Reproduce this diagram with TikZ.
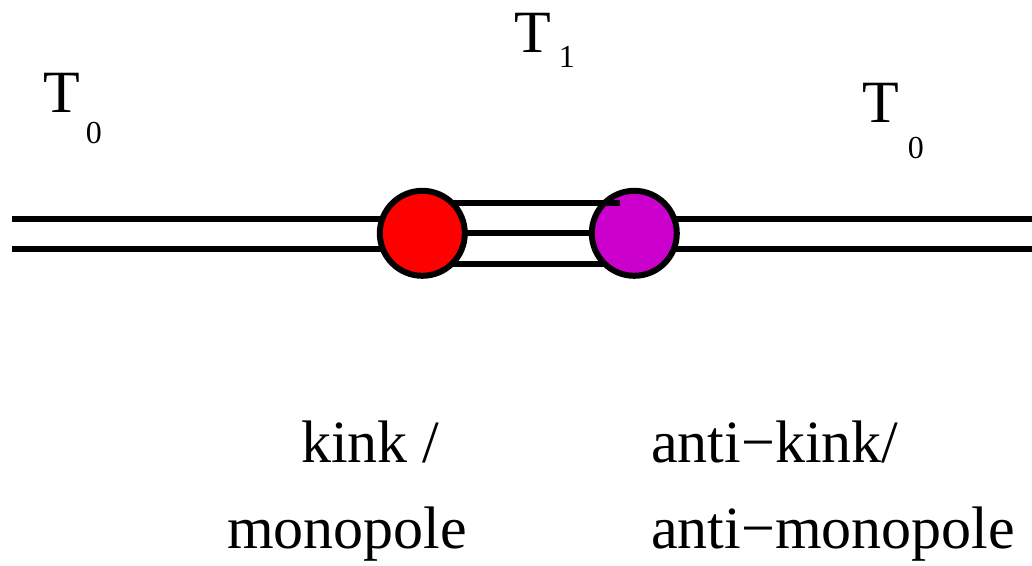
\documentclass[tikz,border=0pt]{standalone}
\usepackage{fontspec}
\setmainfont{Liberation Serif}
\definecolor{kinkred}{RGB}{255,0,0}
\definecolor{antipurple}{RGB}{204,0,204}
% T with a lowered index: #1 index, #2 gap, #3 drop
\newcommand{\tsub}[3]{T\hspace{#2pt}\raisebox{-#3pt}{\fontsize{32}{32}\selectfont #1}}
\begin{document}
\begin{tikzpicture}[x=1pt,y=-1pt,
  tube/.style={line width=6pt},
  pole/.style={circle,draw=black,line width=6pt,minimum size=85pt,inner sep=0pt},
  lbl/.style={anchor=base west,inner sep=0pt,font=\fontsize{60}{60}\selectfont}]
\useasboundingbox (0,0) rectangle (1032,565);

% positions of the two defects
\coordinate (kc) at (422.3,233.3);
\coordinate (ac) at (634.3,233.3);

% free ends of the outer double lines
\coordinate (lu) at (12,218.7);
\coordinate (ld) at (12,249);
\coordinate (ru) at (1032,218.7);
\coordinate (rd) at (1032,249);
\coordinate (topend) at (620,203.3);

% outer T0 strings
\draw[tube] (lu) -- (lu -| kc);
\draw[tube] (ld) -- (ld -| kc);
\draw[tube] (ru) -- (ru -| ac);
\draw[tube] (rd) -- (rd -| ac);

% middle and lower T1 strings, behind both defects
\draw[tube] (kc) -- (ac);
\draw[tube] ([yshift=-30.4pt]kc) -- ([yshift=-30.4pt]ac);

% anti-kink, then upper T1 string over it, then kink
\node[pole,fill=antipurple] (anti) at (ac) {};
\draw[tube] ([yshift=30pt]kc) -- (topend);
\node[pole,fill=kinkred] (kink) at (kc) {};

% phase labels
\node[lbl] (t0l) at (43,112) {\tsub{0}{6}{31}};
\node[lbl] (t1) at (514,52) {\tsub{1}{8}{15}};
\node[lbl] (t0r) at (862,122) {\tsub{0}{9}{36}};

% defect labels
\node[lbl] (k1) at (301,462) {kink /};
\node[lbl] (k2) at (227,548) {monopole};
\node[lbl] (a1) at (651,462) {anti−kink/};
\node[lbl] (a2) at (651,548) {anti−monopole};
\end{tikzpicture}
\end{document}
